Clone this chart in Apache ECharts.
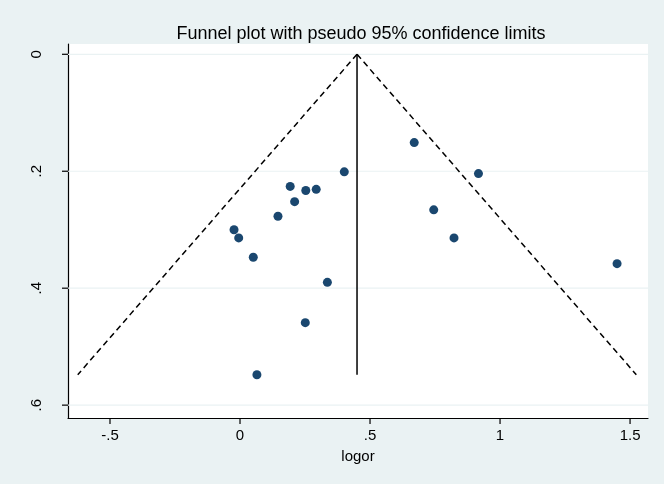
<!DOCTYPE html>
<html>
<head>
<meta charset="utf-8">
<script src="https://cdn.jsdelivr.net/npm/echarts@6/dist/echarts.min.js"></script>
<style>
html,body{margin:0;padding:0;background:#eaf2f3;}
#c{width:664px;height:484px;}
</style>
</head>
<body>
<div id="c"></div>
<script>
// Study estimates: log odds ratio and standard error
const logor = [0.670, 0.917, 0.401, 0.193, 0.253, 0.293, 0.210, 0.146, -0.023, -0.005, 0.051, 0.745, 0.823, 1.450, 0.336, 0.251, 0.065];
const seLogor = [0.151, 0.204, 0.201, 0.226, 0.233, 0.231, 0.252, 0.277, 0.300, 0.314, 0.347, 0.266, 0.314, 0.358, 0.390, 0.459, 0.548];
const pooled = 0.45;      // pooled (fixed-effect) estimate
const seMax = 0.548;      // largest standard error
const z95 = 1.96;
const xTicks = [-0.5, 0, 0.5, 1, 1.5];
const xTickLabels = ['-.5', '0', '.5', '1', '1.5'];
const yTicks = [0, 0.2, 0.4, 0.6];
const yTickLabels = ['0', '.2', '.4', '.6'];

const xMin = -0.6615, xMax = 1.569;
const yMin = -0.0176, yMax = 0.622;

const points = logor.map((v, i) => [v, seLogor[i]]);
const leftLimit = [[pooled, 0], [pooled - z95 * seMax, seMax]];
const rightLimit = [[pooled, 0], [pooled + z95 * seMax, seMax]];
const centerLine = [[pooled, 0], [pooled, seMax]];

const fmt = (labels, ticks) => v => {
  for (let i = 0; i < ticks.length; i++) if (Math.abs(v - ticks[i]) < 1e-6) return labels[i];
  return '';
};

const TICK = 6;

const chart = echarts.init(document.getElementById('c'), null, {renderer: 'canvas'});
chart.setOption({
  backgroundColor: '#eaf2f3',
  animation: false,
  title: {
    text: 'Funnel plot with pseudo 95% confidence limits',
    left: 356, top: 20, textAlign: 'center',
    textStyle: {fontFamily: 'Liberation Sans', fontSize: 18, fontWeight: 'normal', color: '#000'}
  },
  grid: {left: 68, right: 16, top: 44, bottom: 66, show: true, backgroundColor: '#ffffff', borderWidth: 0},
  xAxis: {
    type: 'value', min: xMin, max: xMax,
    name: 'logor', nameLocation: 'middle', nameGap: 31,
    nameTextStyle: {fontFamily: 'Liberation Sans', fontSize: 15, color: '#000'},
    axisLine: {show: true, onZero: false, lineStyle: {color: '#000', width: 1.2}},
    axisTick: {show: false},
    axisLabel: {customValues: xTicks, formatter: fmt(xTickLabels, xTicks), margin: 10,
      fontFamily: 'Liberation Sans', fontSize: 15, color: '#000'},
    splitLine: {show: false}
  },
  yAxis: {
    type: 'value', inverse: true, min: yMin, max: yMax,
    axisLine: {show: true, onZero: false, lineStyle: {color: '#000', width: 1.2}},
    axisTick: {show: false},
    axisLabel: {customValues: yTicks, formatter: fmt(yTickLabels, yTicks), rotate: 90, margin: 24,
      fontFamily: 'Liberation Sans', fontSize: 15, color: '#000'},
    splitLine: {show: false}
  },
  series: [
    { // horizontal grid lines
      type: 'custom', z: 1, silent: true,
      data: yTicks.map(v => [xMin, v]),
      renderItem: (params, api) => {
        const a = api.coord([xMin, api.value(1)]);
        const b = api.coord([xMax, api.value(1)]);
        return {type: 'line', shape: {x1: a[0], y1: a[1], x2: b[0], y2: b[1]},
          style: {stroke: '#eaf2f3', lineWidth: 1.2}};
      }
    },
    { // x-axis ticks
      type: 'custom', z: 6, silent: true, clip: false,
      data: xTicks.map(v => [v, yMax]),
      renderItem: (params, api) => {
        const p = api.coord([api.value(0), yMax]);
        return {type: 'line', shape: {x1: p[0], y1: p[1], x2: p[0], y2: p[1] + TICK},
          style: {stroke: '#000', lineWidth: 1.2}};
      }
    },
    { // y-axis ticks
      type: 'custom', z: 6, silent: true, clip: false,
      data: yTicks.map(v => [xMin, v]),
      renderItem: (params, api) => {
        const p = api.coord([xMin, api.value(1)]);
        return {type: 'line', shape: {x1: p[0] - TICK, y1: p[1], x2: p[0], y2: p[1]},
          style: {stroke: '#000', lineWidth: 1.2}};
      }
    },
    {type: 'line', z: 3, data: leftLimit, symbol: 'none', lineStyle: {color: '#000', width: 1.5, type: [6, 4]}},
    {type: 'line', z: 3, data: rightLimit, symbol: 'none', lineStyle: {color: '#000', width: 1.5, type: [6, 4]}},
    {type: 'line', z: 3, data: centerLine, symbol: 'none', lineStyle: {color: '#000', width: 1.5}},
    {type: 'scatter', z: 5, data: points, symbol: 'circle', symbolSize: 9, itemStyle: {color: '#1a476f', opacity: 1}}
  ]
});
</script>
</body>
</html>
